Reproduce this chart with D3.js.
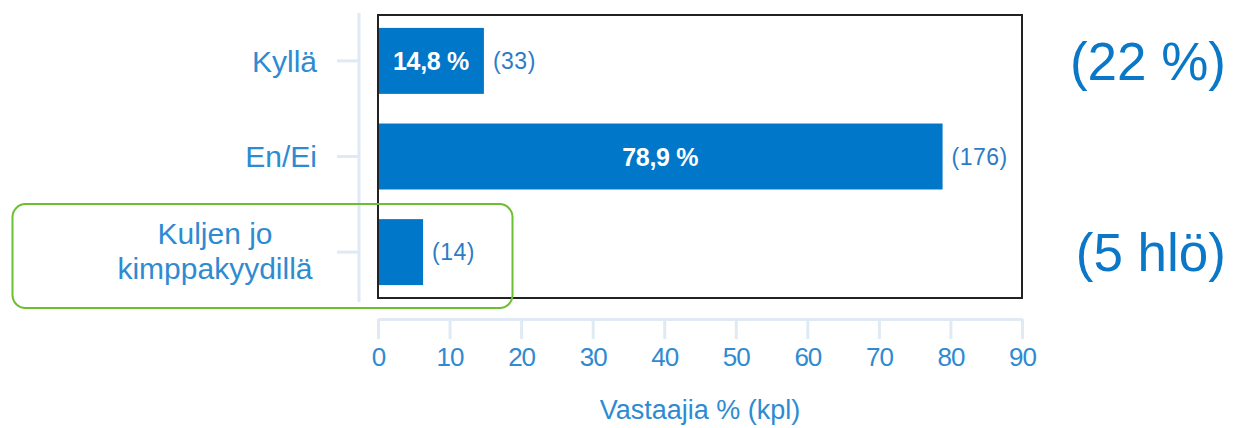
<!DOCTYPE html>
<html>
<head>
<meta charset="utf-8">
<script src="https://cdn.jsdelivr.net/npm/d3@7"></script>
<style>
  body { margin: 0; background: #fff; }
  svg { display: block; }
  text { font-family: "Liberation Sans", Arial, sans-serif; }
</style>
</head>
<body>
<div id="chart"></div>
<script>
// data
var categories = ["Kyllä", "En/Ei", "Kuljen jo\nkimppakyydillä"];
var percents = [14.8, 78.9, 6.3];
var counts = [33, 176, 14];
var pctLabels = ["14,8 %", "78,9 %", ""];
var xTicks = [0, 10, 20, 30, 40, 50, 60, 70, 80, 90];
var notes = [
  {text: "(22 %)", row: 0},
  {text: "(5 hlö)", row: 2}
];

var W = 1233, H = 428;
var margin = {top: 15, right: 211, bottom: 130, left: 378};
var plotW = W - margin.left - margin.right,
    plotH = H - margin.top - margin.bottom;

var blue = "#0077c8";
var axisBlue = "#dfeaf5";
var labelBlue = "#2e8bd2";

var svg = d3.select("#chart").append("svg")
  .attr("width", W).attr("height", H);

var x = d3.scaleLinear().domain([0, 90]).range([margin.left, margin.left + plotW]);
var y = d3.scaleBand().domain(d3.range(categories.length))
  .range([margin.top, margin.top + plotH]).paddingInner(0.31).paddingOuter(0.135);

// bars
svg.selectAll("rect.bar").data(percents).enter().append("rect")
  .attr("class", "bar")
  .attr("x", x(0))
  .attr("y", function(d, i) { return y(i); })
  .attr("width", function(d) { return x(d) - x(0); })
  .attr("height", y.bandwidth())
  .attr("fill", blue);

// percent inside
svg.selectAll("text.pct").data(percents).enter().append("text")
  .attr("class", "pct")
  .attr("x", function(d) { return (x(0) + x(d)) / 2; })
  .attr("y", function(d, i) { return y(i) + y.bandwidth() / 2; })
  .attr("dy", "0.36em")
  .attr("text-anchor", "middle")
  .attr("fill", "#fff")
  .style("font-weight", "bold")
  .style("font-size", "25px")
  .style("letter-spacing", "-0.3px")
  .text(function(d, i) { return pctLabels[i]; });

// counts
svg.selectAll("text.cnt").data(percents).enter().append("text")
  .attr("class", "cnt")
  .attr("x", function(d) { return x(d) + 9; })
  .attr("y", function(d, i) { return y(i) + y.bandwidth() / 2; })
  .attr("dy", "0.36em")
  .attr("fill", "#2b7cc6")
  .style("font-size", "23px")
  .style("letter-spacing", "0.5px")
  .text(function(d, i) { return "(" + counts[i] + ")"; });

// plot frame
svg.append("rect")
  .attr("x", margin.left).attr("y", margin.top)
  .attr("width", plotW).attr("height", plotH)
  .attr("fill", "none").attr("stroke", "#222").attr("stroke-width", 2);

// y axis (offset to the left)
var yAxisX = 359;
svg.append("line")
  .attr("x1", yAxisX).attr("x2", yAxisX)
  .attr("y1", 13).attr("y2", 302)
  .attr("stroke", axisBlue).attr("stroke-width", 3);
svg.selectAll("line.ytick").data(categories).enter().append("line")
  .attr("class", "ytick")
  .attr("x1", yAxisX - 22).attr("x2", yAxisX)
  .attr("y1", function(d, i) { return y(i) + y.bandwidth() / 2; })
  .attr("y2", function(d, i) { return y(i) + y.bandwidth() / 2; })
  .attr("stroke", axisBlue).attr("stroke-width", 3);

svg.selectAll("text.cat").data(categories).enter().append("text")
  .attr("class", "cat")
  .attr("fill", labelBlue)
  .style("font-size", "30px")
  .attr("y", function(d, i) { return y(i) + y.bandwidth() / 2; })
  .each(function(d) {
    var lines = d.split("\n");
    var t = d3.select(this);
    if (lines.length == 1) {
      t.attr("text-anchor", "end").attr("x", 317).attr("dy", "0.36em").text(d);
    } else {
      t.attr("text-anchor", "middle");
      lines.forEach(function(l, k) {
        t.append("tspan").attr("x", 215)
          .attr("dy", k == 0 ? "-0.27em" : "1.17em")
          .text(l);
      });
    }
  });

// x axis
var xAxisY = 319;
var xAxis = d3.axisBottom(x).tickValues(xTicks).tickSize(20).tickSizeOuter(0)
  .tickPadding(9).tickFormat(d3.format("d"));
var gx = svg.append("g").attr("transform", "translate(0," + xAxisY + ")").call(xAxis);
gx.select(".domain").attr("stroke", axisBlue).attr("stroke-width", 3);
gx.selectAll(".tick line").attr("stroke", axisBlue).attr("stroke-width", 3);
gx.selectAll(".tick text").attr("fill", labelBlue)
  .style("font-family", "'Liberation Sans', Arial, sans-serif")
  .style("font-size", "26px")
  .style("letter-spacing", "-1px");

svg.append("text")
  .attr("x", x(45)).attr("y", 419)
  .attr("text-anchor", "middle")
  .attr("fill", labelBlue)
  .style("font-size", "27px")
  .text("Vastaajia % (kpl)");

// highlight box round the last category
svg.append("rect")
  .attr("x", 12.5).attr("y", y(2) - 15)
  .attr("width", 500).attr("height", y.bandwidth() + 38)
  .attr("rx", 13).attr("ry", 13)
  .attr("fill", "none").attr("stroke", "#6cbf2e").attr("stroke-width", 2);

// side notes
svg.selectAll("text.note").data(notes).enter().append("text")
  .attr("class", "note")
  .attr("x", 1226)
  .attr("y", function(d) { return y(d.row) + y.bandwidth() / 2; })
  .attr("dy", "0.36em")
  .attr("text-anchor", "end")
  .attr("fill", "#0a78c6")
  .style("font-size", "53px")
  .text(function(d) { return d.text; });
</script>
</body>
</html>
